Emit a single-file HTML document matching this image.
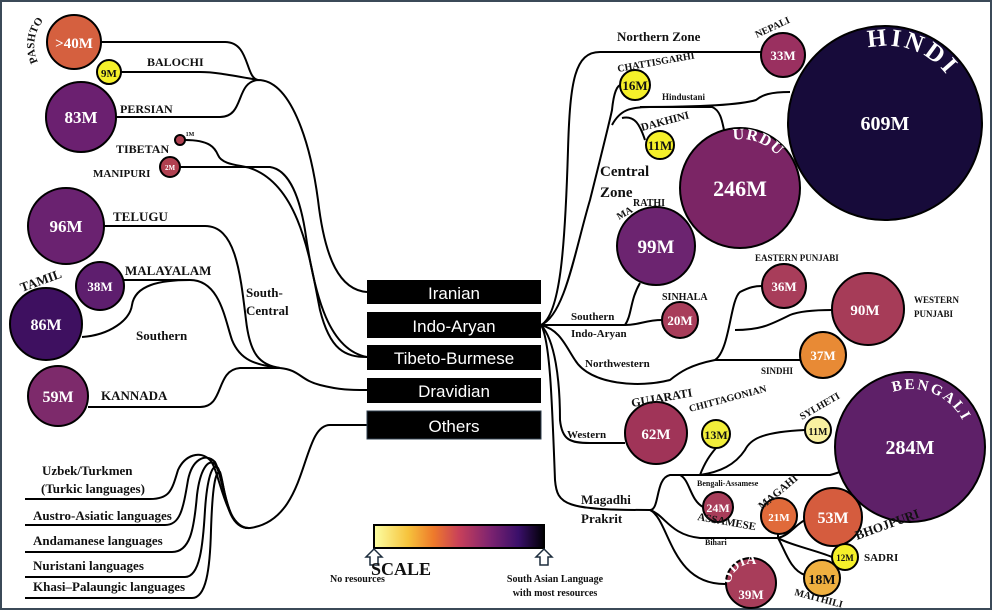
<!DOCTYPE html>
<html><head><meta charset="utf-8"><style>
html,body{margin:0;padding:0;background:#fff}
svg{display:block}
text{font-family:"Liberation Serif",serif;font-weight:bold;fill:#111}
.w{fill:#fff}
.b{font-family:"Liberation Sans",sans-serif;font-weight:normal;fill:#fff;font-size:17px}
path.l{fill:none;stroke:#000;stroke-width:2}
circle{stroke:#000;stroke-width:2}
</style></head><body>
<svg width="992" height="610" viewBox="0 0 992 610" xmlns="http://www.w3.org/2000/svg">
<defs>
<linearGradient id="g" x1="0" x2="1" y1="0" y2="0">
<stop offset="0" stop-color="#fcffa4"/><stop offset="0.2" stop-color="#f6c33c"/><stop offset="0.35" stop-color="#ee7a2b"/><stop offset="0.5" stop-color="#c8405a"/><stop offset="0.68" stop-color="#7f2470"/><stop offset="0.85" stop-color="#3a0f6a"/><stop offset="1" stop-color="#000004"/>
</linearGradient>
<path id="hindiArc" d="M868,48 A77,77 0 0 1 960,100"/>
<path id="urduArc" d="M733,140 A48,48 0 0 1 786,170"/>
<path id="bengArc" d="M893,392 A58,58 0 0 1 968,436"/>
<path id="odiaArc" d="M731,584 A20,20 0 0 1 771,584"/>
<path id="pashArc" d="M38,62 A38,38 0 0 1 66,8"/>
</defs>
<rect x="1" y="1" width="990" height="608" fill="#fff" stroke="#3b4a58" stroke-width="2"/>

<!-- connectors left -->
<g>
<path class="l" d="M101,42 H225 C250,42 245,78 258,80 C230,75 215,72 200,72 H121"/>
<path class="l" d="M116,117 H220 C245,117 235,82 258,80 C290,80 310,140 318,200 C325,260 340,290 367,292"/>
<path class="l" d="M185,140 C210,140 215,148 218,155 C222,165 240,165 250,168 C300,185 310,260 320,310 C330,350 345,357 367,357"/>
<path class="l" d="M180,167 H270 C290,170 300,200 305,230 C315,300 330,350 367,357"/>
<path class="l" d="M104,226 H205 C235,226 240,270 246,320 C250,355 260,365 280,368 C300,370 300,380 320,385 C340,390 350,390 367,390"/>
<path class="l" d="M124,280 H190 C220,280 225,320 232,340 C240,360 255,365 280,368"/>
<path class="l" d="M82,337 C110,335 130,320 132,305 C135,285 160,280 190,280"/>
<path class="l" d="M88,407 H200 C225,407 215,370 240,368 H280"/>
<path class="l" d="M367,425 H330 C300,425 310,520 250,528 C225,530 220,470 210,460 C200,450 185,455 178,470 C172,490 170,499 150,499 H25"/>
<path class="l" d="M250,528 C225,530 225,480 215,462 C205,452 192,460 188,480 C183,510 180,525 165,525 H25"/>
<path class="l" d="M250,528 C225,530 225,480 215,464 C208,458 200,470 197,495 C194,530 190,552 172,552 H25"/>
<path class="l" d="M250,528 C225,530 225,480 218,468 C212,462 207,480 205,510 C203,545 200,577 185,577 H25"/>
<path class="l" d="M250,528 C225,530 225,485 220,472 C214,470 212,500 211,530 C210,570 206,598 192,598 H25"/>
</g>

<!-- connectors right -->
<g>
<path class="l" d="M541,325 C560,315 565,250 568,150 C570,80 575,52 600,52 H762"/>
<path class="l" d="M541,325 C565,315 575,250 590,200 C600,160 610,120 612,110 C614,90 618,85 621,85"/>
<path class="l" d="M612,125 C620,110 630,107 650,107 H712 C720,110 722,120 724,130"/>
<path class="l" d="M640,107 C700,107 740,105 756,100 C762,95 770,92 790,92"/>
<path class="l" d="M622,118 C635,115 640,125 645,140"/>
<path class="l" d="M541,325 H625 C632,315 630,300 640,283"/>
<path class="l" d="M625,325 C640,325 645,320 662,320"/>
<path class="l" d="M541,325 C560,330 565,345 575,360 C590,385 640,388 670,380 C680,372 690,365 715,360 C730,350 730,300 740,292 C750,287 755,286 762,286"/>
<path class="l" d="M715,360 H800"/>
<path class="l" d="M735,330 C760,330 770,325 790,315 C800,311 815,310 832,310"/>
<path class="l" d="M541,325 C555,340 560,380 560,420 C562,440 570,443 590,443 H625"/>
<path class="l" d="M541,325 C550,340 552,400 555,480 C557,505 565,510 650,510 C660,510 655,478 670,475 H830 C850,470 860,460 836,460"/>
<path class="l" d="M700,475 C720,472 735,465 745,450 C750,440 760,432 805,430"/>
<path class="l" d="M700,475 C705,462 710,455 716,448"/>
<path class="l" d="M680,475 C690,480 690,500 703,507"/>
<path class="l" d="M650,510 C665,515 670,535 700,538 H778 C790,535 795,525 805,520"/>
<path class="l" d="M778,538 C790,545 815,550 832,557"/>
<path class="l" d="M778,530 V538 C785,550 790,570 805,575"/>
<path class="l" d="M650,510 C670,520 670,585 726,584"/>
</g>

<!-- family boxes -->
<rect x="367" y="280" width="174" height="24" fill="#000"/>
<rect x="367" y="312" width="174" height="26" fill="#000"/>
<rect x="367" y="345" width="174" height="25" fill="#000"/>
<rect x="367" y="378" width="174" height="25" fill="#000"/>
<rect x="367" y="411" width="174" height="28" fill="#000" stroke="#2d3d4d" stroke-width="1"/>
<text class="b" x="454" y="299" text-anchor="middle">Iranian</text>
<text class="b" x="454" y="332" text-anchor="middle">Indo-Aryan</text>
<text class="b" x="454" y="364" text-anchor="middle">Tibeto-Burmese</text>
<text class="b" x="454" y="397" text-anchor="middle">Dravidian</text>
<text class="b" x="454" y="432" text-anchor="middle">Others</text>

<!-- circles -->
<g>
<circle cx="74" cy="42" r="27" fill="#d5603f"/>
<circle cx="109" cy="72" r="12" fill="#f5f02a"/>
<circle cx="81" cy="117" r="35" fill="#6b2070"/>
<circle cx="180" cy="140" r="5" fill="#b04050"/>
<circle cx="170" cy="167" r="10" fill="#b04050"/>
<circle cx="66" cy="226" r="38" fill="#6a2270"/>
<circle cx="100" cy="286" r="24" fill="#5e1e6e"/>
<circle cx="46" cy="324" r="36" fill="#3e1060"/>
<circle cx="58" cy="396" r="30" fill="#7d2a6b"/>
<circle cx="783" cy="55" r="22" fill="#9a3060"/>
<circle cx="885" cy="123" r="97" fill="#170b3a"/>
<circle cx="635" cy="85" r="15" fill="#f5f02a"/>
<circle cx="660" cy="145" r="14" fill="#f5f02a"/>
<circle cx="740" cy="188" r="60" fill="#7b2565"/>
<circle cx="656" cy="246" r="39" fill="#6c2470"/>
<circle cx="680" cy="320" r="18" fill="#a83d5a"/>
<circle cx="784" cy="286" r="22" fill="#a83d5a"/>
<circle cx="868" cy="309" r="36" fill="#a63c58"/>
<circle cx="823" cy="355" r="23" fill="#e88a35"/>
<circle cx="910" cy="447" r="75" fill="#5e2068"/>
<circle cx="656" cy="433" r="31" fill="#a03458"/>
<circle cx="716" cy="434" r="14" fill="#f2ee3a"/>
<circle cx="818" cy="430" r="13" fill="#f8f0a0"/>
<circle cx="718" cy="507" r="15" fill="#a83d5a"/>
<circle cx="779" cy="516" r="18" fill="#e06a3a"/>
<circle cx="833" cy="517" r="29" fill="#d55c3e"/>
<circle cx="845" cy="557" r="13" fill="#f5f02a"/>
<circle cx="822" cy="578" r="18" fill="#f0b040"/>
<circle cx="751" cy="583" r="25" fill="#a83d5a"/>
</g>

<!-- circle values -->
<g text-anchor="middle">
<text class="w" x="74" y="48" font-size="15">&gt;40M</text>
<text x="109" y="77" font-size="11">9M</text>
<text class="w" x="81" y="123" font-size="17">83M</text>
<text x="190" y="136" font-size="6">1M</text>
<text class="w" x="170" y="170" font-size="7">2M</text>
<text class="w" x="66" y="232" font-size="17">96M</text>
<text class="w" x="100" y="291" font-size="13">38M</text>
<text class="w" x="46" y="330" font-size="16">86M</text>
<text class="w" x="58" y="402" font-size="16">59M</text>
<text class="w" x="783" y="60" font-size="13">33M</text>
<text class="w" x="885" y="130" font-size="20">609M</text>
<text x="635" y="90" font-size="13">16M</text>
<text x="660" y="150" font-size="13">11M</text>
<text class="w" x="740" y="196" font-size="22">246M</text>
<text class="w" x="656" y="253" font-size="19">99M</text>
<text class="w" x="680" y="325" font-size="13">20M</text>
<text class="w" x="784" y="291" font-size="13">36M</text>
<text class="w" x="865" y="315" font-size="15">90M</text>
<text class="w" x="823" y="360" font-size="13">37M</text>
<text class="w" x="910" y="454" font-size="20">284M</text>
<text class="w" x="656" y="439" font-size="15">62M</text>
<text x="716" y="439" font-size="12">13M</text>
<text x="818" y="435" font-size="10">11M</text>
<text class="w" x="718" y="512" font-size="12">24M</text>
<text class="w" x="779" y="521" font-size="11">21M</text>
<text class="w" x="833" y="523" font-size="16">53M</text>
<text x="845" y="561" font-size="9">12M</text>
<text x="822" y="584" font-size="14">18M</text>
<text class="w" x="751" y="599" font-size="13">39M</text>
</g>

<!-- arc names -->
<text class="w" font-size="25" letter-spacing="3"><textPath href="#hindiArc">HINDI</textPath></text>
<text class="w" font-size="16" letter-spacing="1"><textPath href="#urduArc">URDU</textPath></text>
<text class="w" font-size="15" letter-spacing="2"><textPath href="#bengArc">BENGALI</textPath></text>
<text class="w" font-size="14"><textPath href="#odiaArc">ODIA</textPath></text>
<text font-size="11"><textPath href="#pashArc">PASHTO</textPath></text>

<!-- labels -->
<g font-size="12">
<text x="147" y="66">BALOCHI</text>
<text x="120" y="113">PERSIAN</text>
<text x="116" y="153">TIBETAN</text>
<text x="93" y="177" font-size="11">MANIPURI</text>
<text x="113" y="221" font-size="13">TELUGU</text>
<text x="125" y="275" font-size="13">MALAYALAM</text>
<text transform="translate(22,292) rotate(-20)" font-size="13">TAMIL</text>
<text x="101" y="400" font-size="13">KANNADA</text>
<text x="136" y="340" font-size="13">Southern</text>
<text x="246" y="297" font-size="13">South-</text>
<text x="246" y="315" font-size="13">Central</text>
<text x="42" y="475" font-size="13">Uzbek/Turkmen</text>
<text x="41" y="493" font-size="13">(Turkic languages)</text>
<text x="33" y="520" font-size="13">Austro-Asiatic languages</text>
<text x="33" y="545" font-size="13">Andamanese languages</text>
<text x="33" y="570" font-size="13">Nuristani languages</text>
<text x="33" y="591" font-size="13">Khasi–Palaungic languages</text>

<text x="617" y="41" font-size="13">Northern Zone</text>
<text transform="translate(757,38) rotate(-25)" font-size="10">NEPALI</text>
<text transform="translate(618,72) rotate(-10)" font-size="10">CHATTISGARHI</text>
<text x="662" y="100" font-size="9">Hindustani</text>
<text transform="translate(642,131) rotate(-15)" font-size="11">DAKHINI</text>
<text x="600" y="176" font-size="15">Central</text>
<text x="600" y="197" font-size="15">Zone</text>
<text transform="translate(619,220) rotate(-30)" font-size="10">MA</text>
<text x="633" y="206" font-size="10">RATHI</text>
<text x="662" y="300" font-size="10">SINHALA</text>
<text x="571" y="320" font-size="11">Southern</text>
<text x="571" y="337" font-size="11">Indo-Aryan</text>
<text x="585" y="367" font-size="11">Northwestern</text>
<text x="755" y="261" font-size="9">EASTERN PUNJABI</text>
<text x="914" y="303" font-size="9">WESTERN</text>
<text x="914" y="317" font-size="9">PUNJABI</text>
<text x="761" y="374" font-size="9">SINDHI</text>
<text transform="translate(632,407) rotate(-10)" font-size="12">GUJARATI</text>
<text x="567" y="438" font-size="11">Western</text>
<text transform="translate(690,412) rotate(-15)" font-size="10">CHITTAGONIAN</text>
<text transform="translate(802,420) rotate(-30)" font-size="10">SYLHETI</text>
<text x="697" y="486" font-size="8">Bengali-Assamese</text>
<text x="581" y="504" font-size="13">Magadhi</text>
<text x="581" y="523" font-size="13">Prakrit</text>
<text transform="translate(697,520) rotate(10)" font-size="11">ASSAMESE</text>
<text x="705" y="545" font-size="8">Bihari</text>
<text transform="translate(762,510) rotate(-40)" font-size="11">MAGAHI</text>
<text transform="translate(857,540) rotate(-20)" font-size="13">BHOJPURI</text>
<text x="864" y="561" font-size="11">SADRI</text>
<text transform="translate(794,595) rotate(15)" font-size="10">MAITHILI</text>
</g>

<!-- scale -->
<rect x="374" y="525" width="170" height="23" fill="url(#g)" stroke="#000" stroke-width="2"/>
<path d="M374,549 l-8,8 h4 v8 h8 v-8 h4 z" fill="#fff" stroke="#1d2d3d" stroke-width="1.5"/>
<path d="M544,549 l-8,8 h4 v8 h8 v-8 h4 z" fill="#fff" stroke="#1d2d3d" stroke-width="1.5"/>
<text x="371" y="575" font-size="18">SCALE</text>
<text x="330" y="582" font-size="10">No resources</text>
<text x="555" y="582" font-size="10" text-anchor="middle">South Asian Language</text>
<text x="555" y="596" font-size="10" text-anchor="middle">with most resources</text>
</svg>
</body></html>
